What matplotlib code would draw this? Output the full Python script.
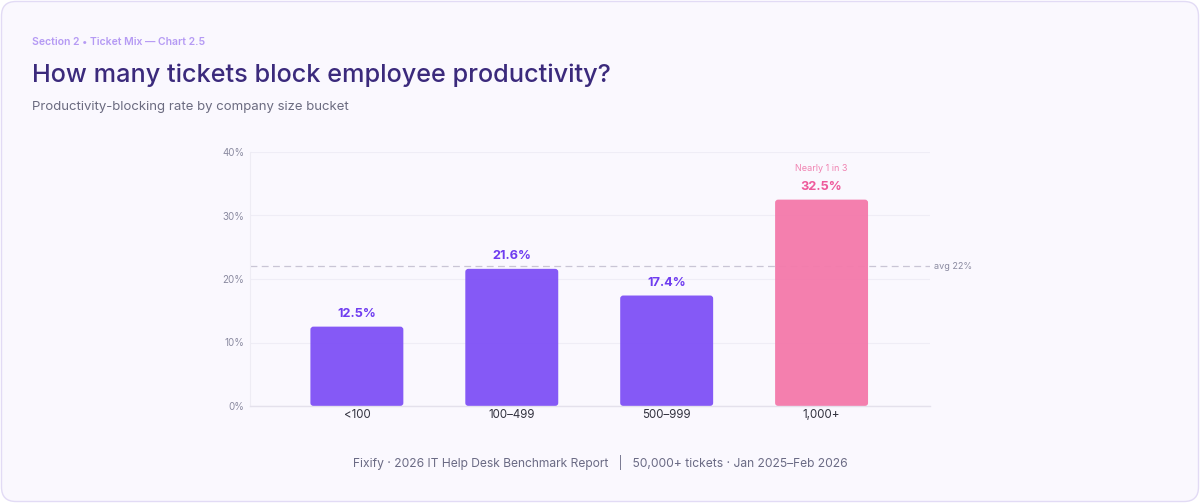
import matplotlib
matplotlib.use("Agg")
import matplotlib.pyplot as plt
from matplotlib.patches import FancyBboxPatch
import matplotlib.ticker as mticker

categories = ["<100", "100–499", "500–999", "1,000+"]
rates = [12.5, 21.6, 17.4, 32.5]
avg_rate = 22
y_ticks = [0, 10, 20, 30, 40]
highlight_note = "Nearly 1 in 3"

plt.rcParams['font.family'] = ['Inter', 'DejaVu Sans']

W, H = 1200, 503
fig = plt.figure(figsize=(W / 100, H / 100), dpi=100)
fig.patch.set_facecolor("white")

# card
card = FancyBboxPatch((1.5 / W, 1.5 / H), (W - 3) / W, (H - 3) / H,
                      boxstyle="round,pad=0,rounding_size=0.012",
                      mutation_aspect=W / H,
                      transform=fig.transFigure, facecolor="#faf8fe",
                      edgecolor="#e2dbf5", linewidth=1.0, zorder=-5)
fig.patches.append(card)

fig.text(32 / W, 1 - 42 / H, "Section 2 • Ticket Mix — Chart 2.5", fontsize=7.5,
         fontweight="semibold", color="#b59af4", va="center", ha="left")
fig.text(32 / W, 1 - 75 / H, "How many tickets block employee productivity?", fontsize=18.2,
         color="#3b2a7c", va="center", ha="left", fontweight="medium")
fig.text(32 / W, 1 - 107 / H, "Productivity-blocking rate by company size bucket", fontsize=9.5,
         color="#6b6b80", va="center", ha="left")
fig.text(600 / W, 1 - 462 / H,
         "Fixify · 2026 IT Help Desk Benchmark Report   |   50,000+ tickets · Jan 2025–Feb 2026",
         fontsize=8.7, color="#6b6b85", va="center", ha="center")

ax = fig.add_axes([250 / W, 97 / H, 680 / W, 254 / H])
ax.set_facecolor("none")
ax.set_xlim(-0.69, 3.70)
ax.set_ylim(0, 40)

purple = "#8052f6"
pink = "#f47aab"
colors = [purple, purple, purple, pink]
label_colors = ["#6f3cf0", "#6f3cf0", "#6f3cf0", "#ee5a9b"]
bw = 0.6

xs = list(range(len(categories)))
bars = ax.bar(xs, rates, width=bw, color="none", zorder=2)
for b, c in zip(bars, colors):
    x0, y0 = b.get_x(), b.get_y()
    w, h = b.get_width(), b.get_height()
    p = FancyBboxPatch((x0, y0), w, h,
                       boxstyle="round,pad=0,rounding_size=0.02",
                       mutation_aspect=23.5, facecolor=c, edgecolor="none",
                       alpha=0.96, zorder=2)
    ax.add_patch(p)

for x, v, lc in zip(xs, rates, label_colors):
    ax.annotate(f"{v}%", (x, v), xytext=(0, 5), textcoords="offset points",
                ha="center", va="bottom", fontsize=9.2, fontweight="bold", color=lc)
ax.annotate(highlight_note, (xs[-1], rates[-1]), xytext=(0, 19), textcoords="offset points",
            ha="center", va="bottom", fontsize=6.5, color="#f084b2")

ax.axhline(avg_rate, color="#c9c5d5", linestyle=(0, (5.5, 3.5)), linewidth=0.9, zorder=1.5)
ax.annotate(f"avg {avg_rate}%", (1.0, avg_rate), xycoords=("axes fraction", "data"),
            xytext=(3, 0), textcoords="offset points", ha="left", va="center",
            fontsize=6.5, color="#8a8aa0")

ax.set_yticks(y_ticks)
ax.yaxis.set_major_formatter(mticker.FuncFormatter(lambda v, p: f"{int(v)}%"))
ax.set_xticks(xs)
ax.set_xticklabels(categories)
ax.grid(axis="y", color="#efedf6", linewidth=0.8, zorder=0)
ax.set_axisbelow(True)
for s in ["top", "right"]:
    ax.spines[s].set_visible(False)
ax.spines["left"].set_color("#eeecf4")
ax.spines["bottom"].set_color("#e4e1ec")
ax.spines["bottom"].set_linewidth(1.0)
ax.tick_params(axis="y", length=0, labelsize=7, labelcolor="#8a8aa0", pad=4)
ax.tick_params(axis="x", length=0, labelsize=8.3, labelcolor="#333340", pad=2.5)

fig.savefig("out.png", dpi=100, facecolor=fig.get_facecolor())
